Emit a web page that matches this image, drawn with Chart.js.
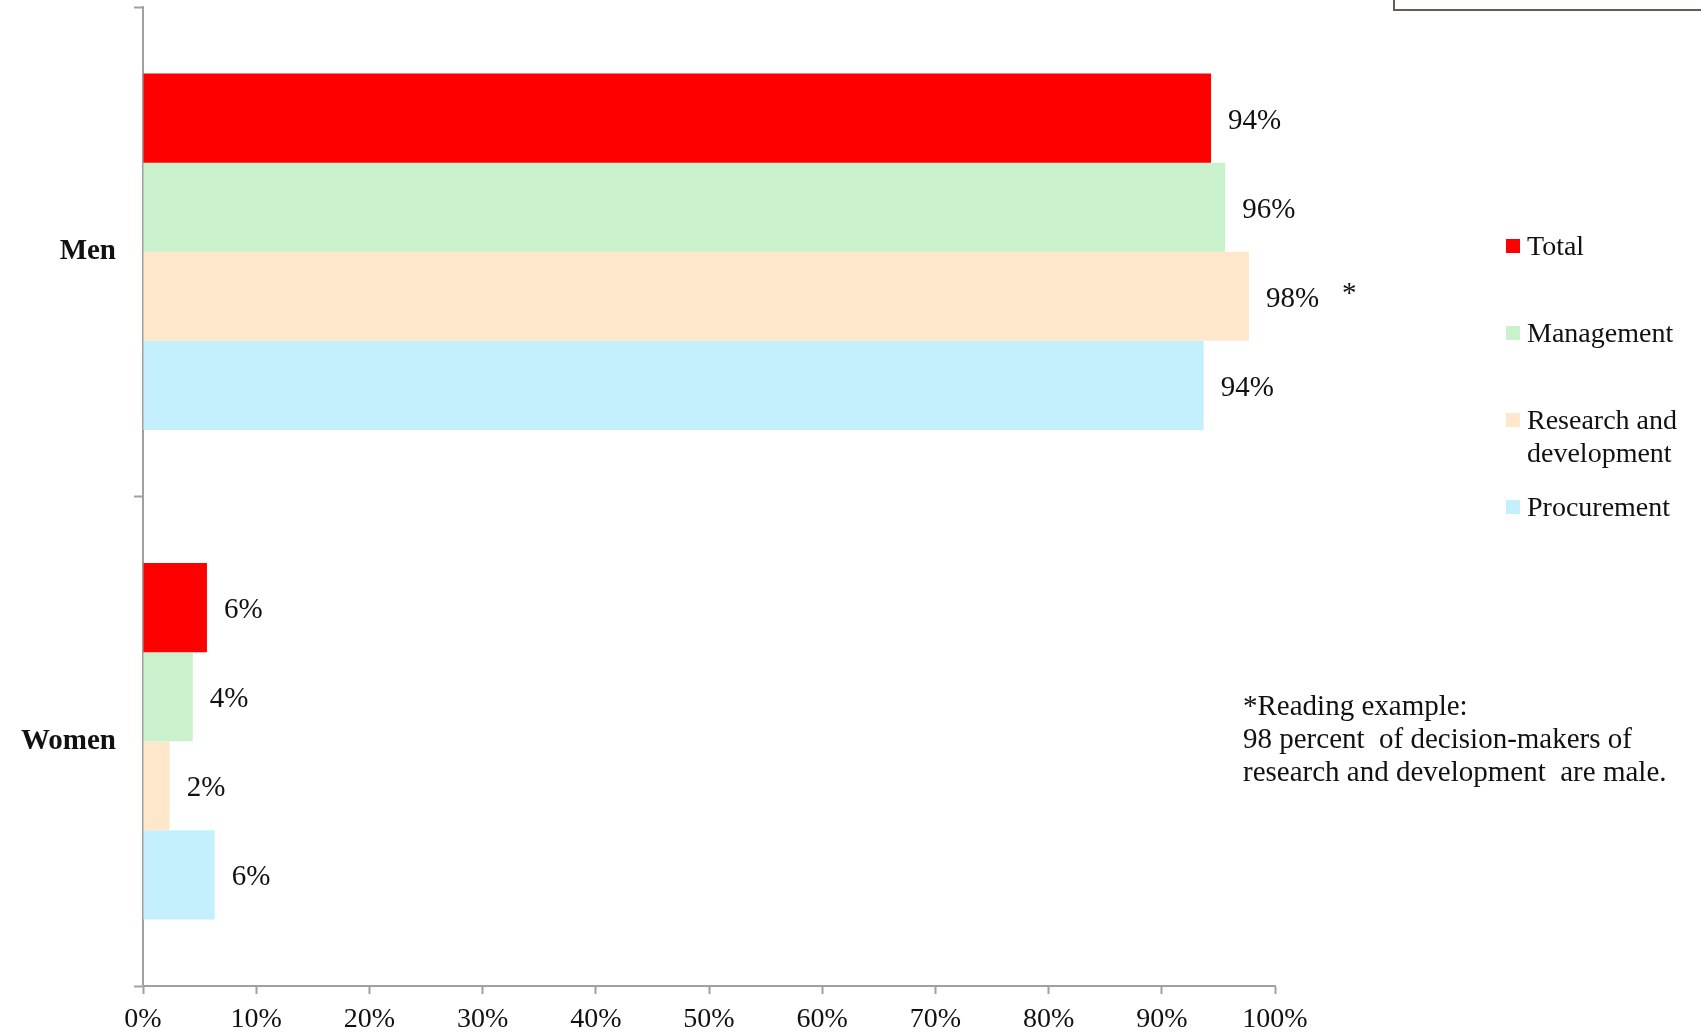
<!DOCTYPE html>
<html lang="en">
<head>
  <meta charset="UTF-8" />
  <title>Decision-makers by gender</title>
  <script src="https://cdn.jsdelivr.net/npm/chart.js"></script>
  <style>
    body {
      margin: 0;
      background: #fff;
      font-family: 'Liberation Serif', serif;
    }
    .wrap {
      position: relative;
      width: 1701px;
      height: 1035px;
      overflow: hidden;
    }
    .top-box {
      position: absolute;
      left: 1393px;
      top: -30px;
      width: 400px;
      height: 37px;
      border: 2px solid #6b5b52;
    }
    .note {
      position: absolute;
      left: 1243px;
      top: 689px;
      font-size: 29px;
      line-height: 33px;
      color: #111;
      white-space: pre;
    }
  </style>
</head>
<body>
  <div class="wrap">
    <canvas id="genderChart" width="1701" height="1035"></canvas>
    <div class="top-box"></div>
    <div class="note">*Reading example:
98 percent  of decision-makers of
research and development  are male.</div>
  </div>

<script>
  const categories = ['Men', 'Women'];
  const seriesNames = ['Total', 'Management', 'Research and\ndevelopment', 'Procurement'];
  const seriesColors = ['#ff0000', '#c9f2cc', '#fee7cb', '#c4f0fd'];
  const totalValues = [94.35, 5.65];
  const managementValues = [95.6, 4.4];
  const researchValues = [97.7, 2.36];
  const procurementValues = [93.7, 6.33];
  const xTicks = [0, 10, 20, 30, 40, 50, 60, 70, 80, 90, 100];

  const axisColor = '#a0a0a0';
  const serif = 'Liberation Serif';

  // value labels next to each bar, plus the "*" after the R&D men bar
  const valueLabels = {
    id: 'valueLabels',
    afterDatasetsDraw(chart) {
      const ctx = chart.ctx;
      ctx.save();
      ctx.font = '29px "' + serif + '"';
      ctx.fillStyle = '#111';
      ctx.textBaseline = 'middle';
      ctx.textAlign = 'left';
      chart.data.datasets.forEach((ds, i) => {
        chart.getDatasetMeta(i).data.forEach((bar, j) => {
          ctx.fillText(Math.round(ds.data[j]) + '%', bar.x + 17, bar.y + 3);
          if (i === 2 && j === 0) {
            ctx.fillText('*', bar.x + 93, bar.y - 2);
          }
        });
      });
      ctx.restore();
    }
  };

  // legend on the right side, one item per dataset
  const sideLegend = {
    id: 'sideLegend',
    afterDraw(chart) {
      const ctx = chart.ctx;
      ctx.save();
      ctx.font = '28px "' + serif + '"';
      ctx.textBaseline = 'middle';
      chart.data.datasets.forEach((ds, i) => {
        const y = 246 + i * 87;
        ctx.fillStyle = ds.backgroundColor;
        ctx.fillRect(1506, y - 7, 14, 14);
        ctx.fillStyle = '#111';
        ds.label.split('\n').forEach((line, k) => {
          ctx.fillText(line, 1527, y + 2 + k * 33);
        });
      });
      ctx.restore();
    }
  };

  const seriesValues = [totalValues, managementValues, researchValues, procurementValues];

  new Chart(document.getElementById('genderChart'), {
    type: 'bar',
    data: {
      labels: categories,
      datasets: seriesNames.map((name, i) => ({
        label: name,
        data: seriesValues[i],
        backgroundColor: seriesColors[i],
        borderWidth: 0,
        categoryPercentage: 0.728,
        barPercentage: 1
      }))
    },
    plugins: [valueLabels, sideLegend],
    options: {
      indexAxis: 'y',
      responsive: false,
      animation: false,
      layout: { padding: { top: 7, right: 426, left: 0, bottom: 0 } },
      plugins: {
        legend: { display: false },
        tooltip: { enabled: false }
      },
      scales: {
        x: {
          min: 0,
          max: 100,
          afterBuildTicks: (scale) => { scale.ticks = xTicks.map(v => ({ value: v })); },
          afterFit: (scale) => { scale.height = 49; },
          border: { color: axisColor, width: 2 },
          grid: { drawOnChartArea: false, drawTicks: true, tickLength: 8, tickColor: axisColor, tickWidth: 2 },
          ticks: {
            color: '#111',
            padding: 9,
            maxRotation: 0,
            font: { family: serif, size: 28 },
            callback: (v) => v + '%'
          }
        },
        y: {
          afterFit: (scale) => {
            scale.width = 143;
            scale.paddingTop = 0;
            scale.paddingBottom = 0;
          },
          border: { color: axisColor, width: 2 },
          grid: { drawOnChartArea: false, drawTicks: true, tickLength: 9, tickColor: axisColor, tickWidth: 2 },
          ticks: {
            color: '#111',
            padding: 18,
            font: { family: serif, size: 29, weight: 'bold' }
          }
        }
      }
    }
  });
</script>
</body>
</html>
